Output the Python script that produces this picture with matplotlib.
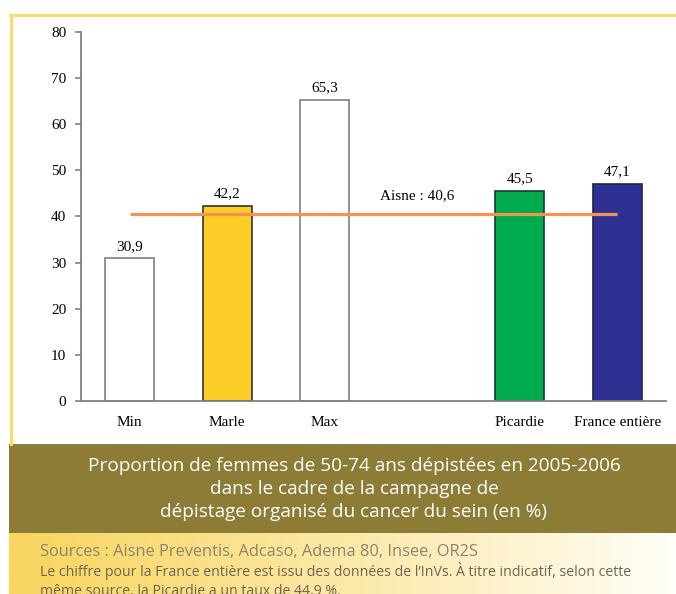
import matplotlib
matplotlib.use("Agg")
import matplotlib.pyplot as plt
import numpy as np
from matplotlib.patches import Rectangle
from matplotlib.lines import Line2D

categories = ["Min", "Marle", "Max", "", "Picardie", "France entière"]
values = [30.9, 42.2, 65.3, None, 45.5, 47.1]
value_labels = ["30,9", "42,2", "65,3", "", "45,5", "47,1"]
aisne_value = 40.6
aisne_label = "Aisne : 40,6"
yticks = [0, 10, 20, 30, 40, 50, 60, 70, 80]

face_colors = ["white", "#FCCC27", "white", "white", "#00AA4F", "#2E3192"]
edge_colors = ["#808080", "#333333", "#808080", "#808080", "#1a3a2a", "#222244"]

title_lines = ("Proportion de femmes de 50-74 ans dépistées en 2005-2006\n"
               "dans le cadre de la campagne de\n"
               "dépistage organisé du cancer du sein (en %)")
source_line = "Sources : Aisne Preventis, Adcaso, Adema 80, Insee, OR2S"
note_lines = ("Le chiffre pour la France entière est issu des données de l\u2019InVs. À titre indicatif, selon cette\n"
              "même source, la Picardie a un taux de 44,9 %.")

W, H = 676, 594
fig = plt.figure(figsize=(W / 100, H / 100), dpi=100)
fig.patch.set_facecolor("white")

# gradient band at bottom
gax = fig.add_axes([9 / W, 0, (W - 9) / W, 61 / H])
grad = np.linspace(0, 1, 256)[None, :] ** 1.1
c0 = np.array([248, 214, 96]) / 255
c1 = np.array([255, 254, 248]) / 255
img = c0[None, None, :] * (1 - grad[..., None]) + c1[None, None, :] * grad[..., None]
gax.imshow(img, aspect="auto", extent=[0, 1, 0, 1])
gax.set_axis_off()

# olive band
fig.patches.append(Rectangle((9 / W, (H - 533) / H), (W - 9) / W, 89 / H,
                             transform=fig.transFigure, facecolor="#8D7C36",
                             edgecolor="none", zorder=1))
# yellow frame
fig.lines.append(Line2D([10.5 / W, 10.5 / W], [(H - 444) / H, (H - 14.5) / H],
                        transform=fig.transFigure, color="#F9DC6A", lw=2.2))
fig.lines.append(Line2D([9.5 / W, 1], [(H - 14.5) / H, (H - 14.5) / H],
                        transform=fig.transFigure, color="#F9DC6A", lw=2.2))

ax = fig.add_axes([81 / W, 1 - 401 / H, (666 - 81) / W, (401 - 31.7) / H])
ax.set_facecolor("none")
x = np.arange(len(categories))
for i, v in enumerate(values):
    if v is None:
        continue
    ax.bar(x[i], v, width=0.5, color=face_colors[i], edgecolor=edge_colors[i],
           linewidth=1.2, zorder=2)
    ax.annotate(value_labels[i], (x[i], v), xytext=(0, 4), textcoords="offset points",
                ha="center", va="bottom", fontsize=11, family="Liberation Serif")

ax.plot([x[0], x[-1]], [aisne_value, aisne_value], color="#F4924F", lw=2.3, zorder=3,
        solid_capstyle="butt")
ax.text(2.95, aisne_value + 3.9, aisne_label, ha="center", va="center",
        fontsize=11, family="Liberation Serif")

ax.set_xlim(-0.5, 5.5)
ax.set_ylim(0, 80)
ax.set_yticks(yticks)
ax.set_yticklabels([str(t) for t in yticks], family="Liberation Serif", fontsize=11)
ax.set_xticks([i for i, c in enumerate(categories) if c])
ax.set_xticklabels([c for c in categories if c], family="Liberation Serif", fontsize=11)
ax.tick_params(axis="x", length=0, pad=11)
ax.tick_params(axis="y", length=4.5, width=1.2, color="#808080", pad=6)
for s in ["top", "right"]:
    ax.spines[s].set_visible(False)
for s in ["left", "bottom"]:
    ax.spines[s].set_color("#808080")
    ax.spines[s].set_linewidth(1.3)

fig.text(354 / W, (H - 489) / H, title_lines, ha="center", va="center", color="white",
         fontsize=13.7, family="Open Sans", linespacing=1.37)
fig.text(40 / W, (H - 552) / H, source_line, ha="left", va="center", color="#8C846E",
         fontsize=11.8, family="Open Sans")
fig.text(40 / W, (H - 580.5) / H, note_lines, ha="left", va="center", color="#6F6552",
         fontsize=10.2, family="Open Sans", linespacing=1.4)

fig.savefig("out.png", dpi=100)
